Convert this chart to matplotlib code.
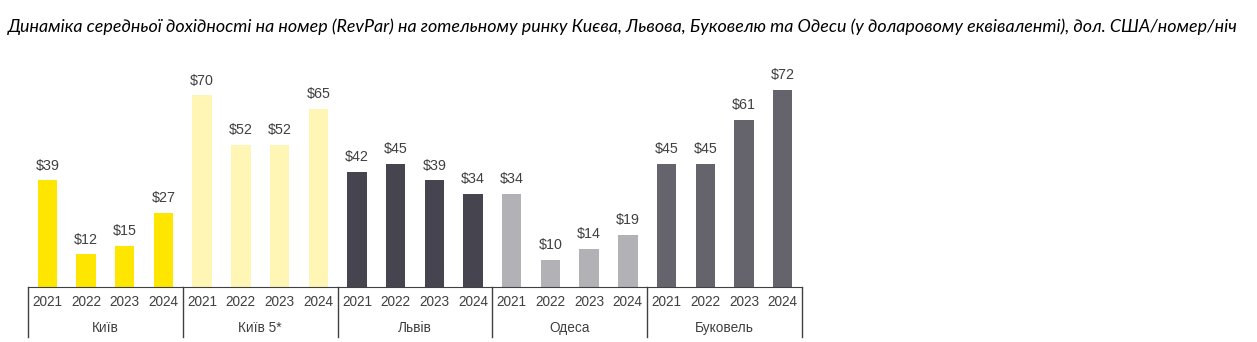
import numpy as np
import matplotlib.pyplot as plt

# дані
cities = ['Київ', 'Київ 5*', 'Львів', 'Одеса', 'Буковель']
years = ['2021', '2022', '2023', '2024']
kyiv = [39, 12, 15, 27]
kyiv5 = [70, 52, 52, 65]
lviv = [42, 45, 39, 34]
odesa = [34, 10, 14, 19]
bukovel = [45, 45, 61, 72]
colors = ['#FFE600', '#FFF6B6', '#46454F', '#B2B1B6', '#65646C']

series = [kyiv, kyiv5, lviv, odesa, bukovel]
title = ('Динаміка середньої дохідності на номер (RevPar) на готельному ринку Києва, '
         'Львова, Буковелю та Одеси (у доларовому еквіваленті), дол. США/номер/ніч')

plt.rcParams['font.family'] = ['Liberation Sans', 'DejaVu Sans']
txt = '#404040'

fig = plt.figure(figsize=(12.57, 3.42), dpi=100)
ax = fig.add_axes([28 / 1257, 55 / 342, (802 - 28) / 1257, 219 / 342])

n = len(years)
for g, vals in enumerate(series):
    x = np.arange(n) + g * n
    bars = ax.bar(x, vals, width=0.5, color=colors[g])
    for xi, v in zip(x, vals):
        ax.annotate('$%d' % v, xy=(xi, v), xytext=(0, 5.5), textcoords='offset points',
                    ha='center', va='bottom', fontsize=10.3, color=txt)

ax.set_xlim(-0.5, len(series) * n - 0.5)
ax.set_ylim(0, 80)
ax.set_yticks([])
ax.set_xticks([])
for s in ['top', 'left', 'right']:
    ax.spines[s].set_visible(False)
ax.spines['bottom'].set_color('#404040')

tr = ax.get_xaxis_transform()
for g in range(len(series) + 1):
    ax.plot([g * n - 0.5] * 2, [0, -50 / 219], transform=tr, color='#404040',
            lw=1, clip_on=False)
for g, c in enumerate(series):
    for i, y in enumerate(years):
        ax.annotate(y, xy=(g * n + i, 0), xycoords=tr, xytext=(0, -11),
                    textcoords='offset points', ha='center', va='center',
                    fontsize=9.8, color=txt)
    ax.annotate(cities[g], xy=(g * n + (n - 1) / 2, 0), xycoords=tr, xytext=(0, -29.5),
                textcoords='offset points', ha='center', va='center',
                fontsize=9.8, color=txt)

fig.text(8 / 1257, 1 - 27 / 342, title, family=['Lato', 'DejaVu Sans'], style='italic',
         fontsize=12.9, va='center', ha='left', color='black')

fig.savefig('out.png', dpi=100)
